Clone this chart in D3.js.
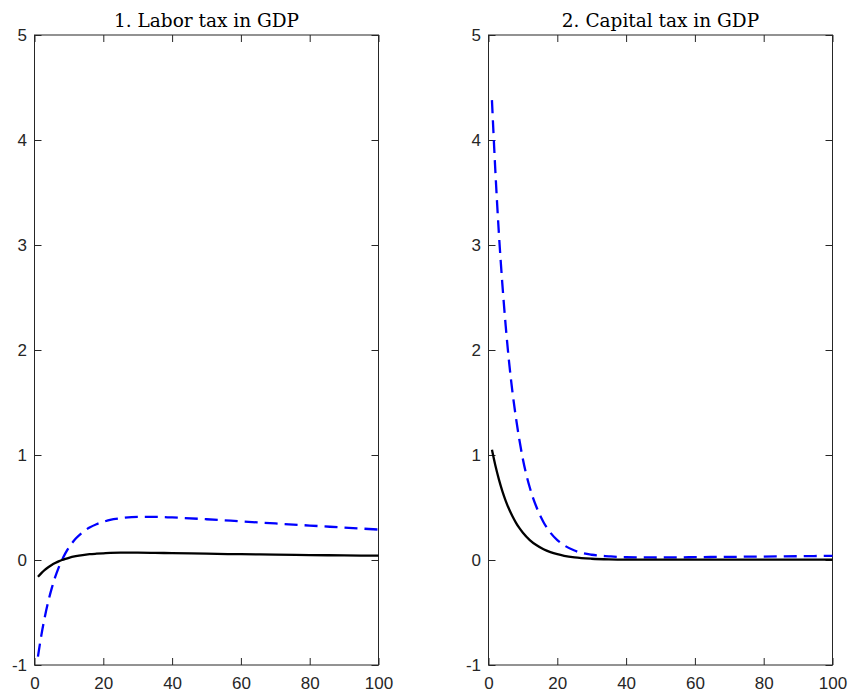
<!DOCTYPE html>
<html>
<head>
<meta charset="utf-8">
<script src="https://cdn.jsdelivr.net/npm/d3@7"></script>
<style>
  body { margin: 0; background: #fff; }
  svg { display: block; }
</style>
</head>
<body>
<div id="chart"></div>
<script>
// horizon (periods)
var periods = [1, 2, 3, 4, 5, 6, 7, 8, 9, 10, 12, 14, 16, 18, 20, 22, 25, 30, 35, 40, 50, 60, 70, 80, 90, 100];

// panel 1: labor tax in GDP
var laborSolid  = [-0.16, -0.125, -0.094, -0.069, -0.047, -0.029, -0.013, 0.0, 0.011, 0.021, 0.036, 0.047, 0.055, 0.060, 0.064, 0.068, 0.070, 0.070, 0.068, 0.065, 0.060, 0.055, 0.051, 0.047, 0.044, 0.041];
var laborDashed = [-0.92, -0.715, -0.542, -0.395, -0.270, -0.164, -0.075, 0.0, 0.065, 0.119, 0.204, 0.265, 0.309, 0.341, 0.363, 0.383, 0.398, 0.410, 0.410, 0.405, 0.388, 0.368, 0.348, 0.328, 0.309, 0.290];

// panel 2: capital tax in GDP
var capitalSolid  = [1.05, 0.899, 0.770, 0.659, 0.564, 0.483, 0.414, 0.354, 0.303, 0.260, 0.190, 0.140, 0.102, 0.075, 0.055, 0.040, 0.025, 0.012, 0.006, 0.004, 0.004, 0.004, 0.004, 0.004, 0.004, 0.004];
var capitalDashed = [4.38, 3.70, 3.12, 2.64, 2.23, 1.88, 1.59, 1.35, 1.14, 0.96, 0.69, 0.50, 0.36, 0.26, 0.19, 0.14, 0.09, 0.05, 0.035, 0.026, 0.024, 0.027, 0.030, 0.033, 0.036, 0.040];

var titles = ["1. Labor tax in GDP", "2. Capital tax in GDP"];
var xTicks = [0, 20, 40, 60, 80, 100];
var yTicks = [-1, 0, 1, 2, 3, 4, 5];

var width = 848;
var height = 690;
var plotTop = 35, plotBottom = 665;
var panelLeft = [34.5, 488.5];
var panelWidth = 344;
var axisColor = "#262626";

var svg = d3.select("#chart").append("svg")
  .attr("width", width).attr("height", height);

var panels = [
  { title: titles[0], solid: laborSolid, dashed: laborDashed },
  { title: titles[1], solid: capitalSolid, dashed: capitalDashed }
];

panels.forEach(function(p, i) {
  var x = d3.scaleLinear().domain([0, 100]).range([panelLeft[i], panelLeft[i] + panelWidth]);
  var y = d3.scaleLinear().domain([-1, 5]).range([plotBottom, plotTop]);

  var g = svg.append("g");

  // inward ticks on all four sides, matlab-ish
  var tick = 7;
  g.append("g").attr("transform", "translate(0," + plotBottom + ")")
    .call(d3.axisBottom(x).tickValues(xTicks).tickSizeInner(-tick).tickSizeOuter(0).tickPadding(12).tickFormat(function(d) { return String(d); }));
  g.append("g").attr("transform", "translate(0," + plotTop + ")")
    .call(d3.axisTop(x).tickValues(xTicks).tickSizeInner(-tick).tickSizeOuter(0).tickFormat(""));
  g.append("g").attr("transform", "translate(" + x(0) + ",0)")
    .call(d3.axisLeft(y).tickValues(yTicks).tickSizeInner(-tick).tickSizeOuter(0).tickPadding(7.5).tickFormat(function(d) { return String(d); }));
  g.append("g").attr("transform", "translate(" + x(100) + ",0)")
    .call(d3.axisRight(y).tickValues(yTicks).tickSizeInner(-tick).tickSizeOuter(0).tickFormat(""));

  g.selectAll(".domain").remove();
  g.selectAll(".tick line").attr("stroke", axisColor);
  g.selectAll(".tick text")
    .attr("fill", axisColor)
    .style("font-family", "'Liberation Sans', Arial, sans-serif")
    .style("font-size", "17px");

  // box
  g.append("rect")
    .attr("x", x(0)).attr("y", plotTop)
    .attr("width", x(100) - x(0)).attr("height", plotBottom - plotTop)
    .attr("fill", "none").attr("stroke", axisColor).attr("stroke-width", 1);

  var line = d3.line()
    .x(function(d, j) { return x(periods[j]); })
    .y(function(d) { return y(d); })
    .curve(d3.curveMonotoneX);

  g.append("path").datum(p.dashed)
    .attr("d", line)
    .attr("fill", "none")
    .attr("stroke", "#0000ff")
    .attr("stroke-width", 2.3)
    .attr("stroke-dasharray", "13,7");

  g.append("path").datum(p.solid)
    .attr("d", line)
    .attr("fill", "none")
    .attr("stroke", "#000")
    .attr("stroke-width", 2.3);

  g.append("text")
    .attr("x", (x(0) + x(100)) / 2)
    .attr("y", 26.5)
    .attr("text-anchor", "middle")
    .style("font-family", "'DejaVu Serif', serif")
    .style("font-size", "18.5px")
    .attr("fill", "#000")
    .text(p.title);
});
</script>
</body>
</html>
